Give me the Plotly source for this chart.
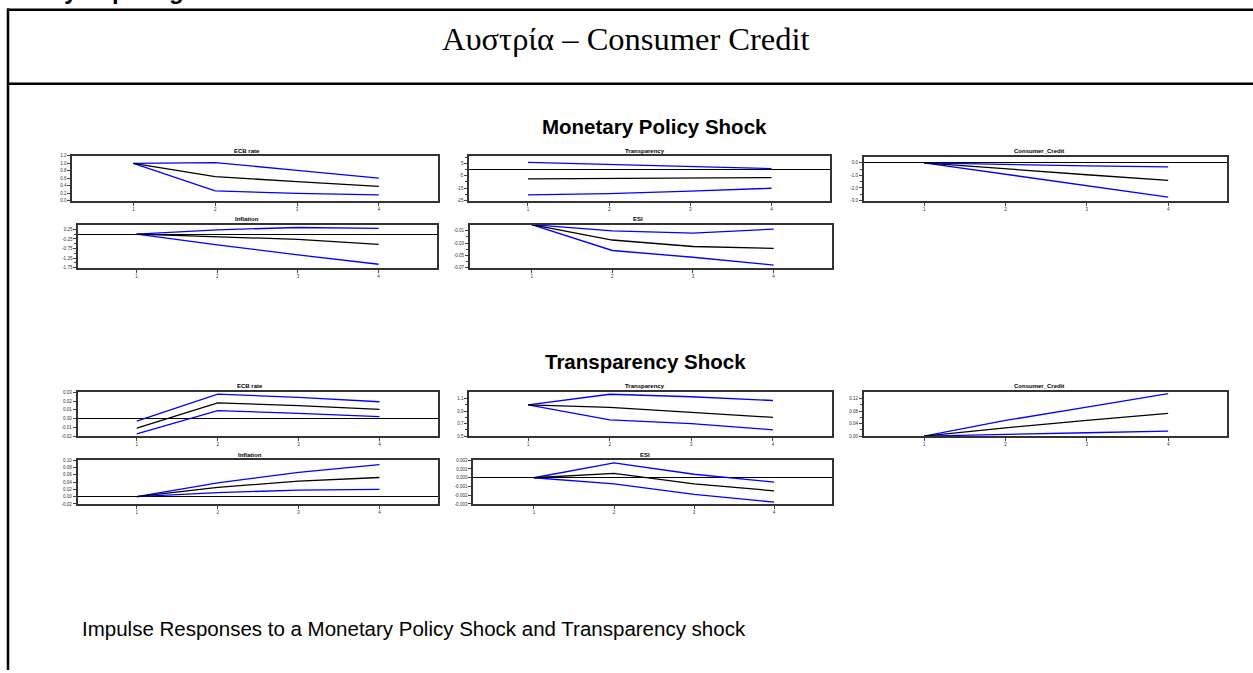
import plotly.graph_objects as go

W, H = 1253, 673

horizons = [1, 2, 3, 4]
x_tick_labels = ["1", "2", "3", "4"]

# ---- Monetary Policy Shock responses (mid = point estimate, up/lo = bands)
mp_ecb_mid = [1.0, 0.64, 0.51, 0.38]
mp_ecb_up = [1.0, 1.02, 0.81, 0.60]
mp_ecb_lo = [1.0, 0.26, 0.19, 0.15]

mp_tr_mid = [-7.6, -7.3, -6.9, -6.5]
mp_tr_up = [5.8, 4.2, 2.4, 0.7]
mp_tr_lo = [-20.5, -19.4, -17.5, -15.1]

mp_cc_mid = [0.0, -0.49, -0.95, -1.40]
mp_cc_up = [0.0, -0.14, -0.24, -0.32]
mp_cc_lo = [0.0, -0.90, -1.80, -2.73]

mp_inf_mid = [0.0, -0.12, -0.27, -0.53]
mp_inf_up = [0.0, 0.23, 0.35, 0.30]
mp_inf_lo = [0.0, -0.56, -1.08, -1.57]

mp_esi_mid = [0.0, -0.025, -0.0355, -0.0387]
mp_esi_up = [0.0, -0.010, -0.0137, -0.0073]
mp_esi_lo = [0.0, -0.042, -0.053, -0.0657]

# ---- Transparency Shock responses
ts_ecb_mid = [-0.011, 0.018, 0.0148, 0.0106]
ts_ecb_up = [-0.003, 0.028, 0.0243, 0.0193]
ts_ecb_lo = [-0.0174, 0.0091, 0.006, 0.0023]

ts_tr_mid = [1.0, 0.96, 0.88, 0.80]
ts_tr_up = [1.0, 1.17, 1.13, 1.07]
ts_tr_lo = [1.0, 0.76, 0.70, 0.60]

ts_cc_mid = [0.0, 0.0265, 0.05, 0.073]
ts_cc_up = [0.0, 0.05, 0.093, 0.136]
ts_cc_lo = [0.0, 0.0064, 0.0106, 0.016]

ts_inf_mid = [0.0, 0.0255, 0.0427, 0.0527]
ts_inf_up = [0.0, 0.038, 0.067, 0.088]
ts_inf_lo = [0.0, 0.011, 0.018, 0.020]

ts_esi_mid = [0.0, 0.0005, -0.0007, -0.0015]
ts_esi_up = [0.0, 0.0017, 0.0004, -0.0005]
ts_esi_lo = [0.0, -0.0007, -0.0019, -0.0028]

# y tick labels per panel
mp_ecb_ticks = [0.0, 0.2, 0.4, 0.6, 0.8, 1.0, 1.2]
mp_tr_ticks = [5, -5, -15, -25]
mp_cc_ticks = [0.0, -1.0, -2.0, -3.0]
mp_inf_ticks = [0.25, -0.25, -0.75, -1.25, -1.75]
mp_esi_ticks = [-0.01, -0.03, -0.05, -0.07]
ts_ecb_ticks = [0.03, 0.02, 0.01, 0.0, -0.01, -0.02]
ts_tr_ticks = [1.1, 0.9, 0.7, 0.5]
ts_cc_ticks = [0.12, 0.08, 0.04, 0.0]
ts_inf_ticks = [0.10, 0.08, 0.06, 0.04, 0.02, 0.0, -0.02]
ts_esi_ticks = [0.002, 0.001, 0.0, -0.001, -0.002, -0.003]

panels = [
    # title, mid, up, lo, ticks, fmt, minor, yrange, (left, top, right, bottom) px, xlo, title pos
    ("ECB rate", mp_ecb_mid, mp_ecb_up, mp_ecb_lo, mp_ecb_ticks, "{:.1f}", [],
     [0, 1.2], (72.3, 155, 437.7, 200), 0.253, (247, 150)),
    ("Transparency", mp_tr_mid, mp_tr_up, mp_tr_lo, mp_tr_ticks, "{:.0f}", [10, 0, -10, -20],
     [-25, 11], (469.3, 155, 830, 200), 0.278, (645, 150)),
    ("Consumer_Credit", mp_cc_mid, mp_cc_up, mp_cc_lo, mp_cc_ticks, "{:.1f}", [-0.5, -1.5, -2.5],
     [-3, 0.5], (864, 155.7, 1226.7, 200), 0.26, (1039, 150)),
    ("Inflation", mp_inf_mid, mp_inf_up, mp_inf_lo, mp_inf_ticks, "{:.2f}", [0, -0.5, -1.0, -1.5],
     [-1.75, 0.5], (78.3, 224.3, 436.7, 267.7), 0.277, (247, 218.7)),
    ("ESI", mp_esi_mid, mp_esi_up, mp_esi_lo, mp_esi_ticks, "{:.2f}", [-0.02, -0.04, -0.06],
     [-0.07, 0.0], (470, 224.3, 831.7, 267.7), 0.236, (638, 218.7)),
    ("ECB rate", ts_ecb_mid, ts_ecb_up, ts_ecb_lo, ts_ecb_ticks, "{:.2f}", [],
     [-0.02, 0.03], (77.7, 393.3, 437.7, 437.3), 0.27, (250, 387.3)),
    ("Transparency", ts_tr_mid, ts_tr_up, ts_tr_lo, ts_tr_ticks, "{:.1f}", [1.0, 0.8, 0.6],
     [0.5, 1.2], (469.3, 393.3, 831.7, 437.3), 0.278, (645, 387.3)),
    ("Consumer_Credit", ts_cc_mid, ts_cc_up, ts_cc_lo, ts_cc_ticks, "{:.2f}", [0.10, 0.06, 0.02],
     [0, 0.14], (864, 393.3, 1226.7, 437.3), 0.26, (1039, 387.3)),
    ("Inflation", ts_inf_mid, ts_inf_up, ts_inf_lo, ts_inf_ticks, "{:.2f}", [],
     [-0.02, 0.10], (77.7, 461.7, 437.7, 505.7), 0.27, (250, 456)),
    ("ESI", ts_esi_mid, ts_esi_up, ts_esi_lo, ts_esi_ticks, "{:.3f}", [],
     [-0.003, 0.002], (473.3, 461.7, 831.7, 505.7), 0.242, (645, 456)),
]


def px(x):
    return x / W


def py(y):
    return 1 - y / H


fig = go.Figure()
annotations = []
layout_axes = {}

for i, (title, mid, up, lo, ticks, fmt, minor, yr, box, xlo, tpos) in enumerate(panels):
    n = i + 1
    xa = "x" if n == 1 else f"x{n}"
    ya = "y" if n == 1 else f"y{n}"
    for vals, col in ((up, "#0000ff"), (lo, "#0000ff"), (mid, "#000000")):
        fig.add_trace(go.Scatter(x=horizons, y=vals, mode="lines", xaxis=xa, yaxis=ya,
                                 line=dict(color=col, width=1.3), showlegend=False,
                                 hoverinfo="skip"))
    left, top, right, bottom = box
    xkey = "xaxis" if n == 1 else f"xaxis{n}"
    ykey = "yaxis" if n == 1 else f"yaxis{n}"
    layout_axes[xkey] = dict(
        domain=[px(left), px(right)], anchor=ya, range=[xlo, 4.72],
        tickmode="array", tickvals=horizons, ticktext=x_tick_labels,
        ticks="outside", ticklen=3, tickwidth=1, tickcolor="#444",
        tickfont=dict(size=4.5, color="#333", family="Arial"),
        showline=True, mirror=True, linecolor="#333", linewidth=2,
        showgrid=False, zeroline=False, fixedrange=True,
    )
    ytick_text = [fmt.format(v) for v in ticks]
    layout_axes[ykey] = dict(
        domain=[py(bottom), py(top)], anchor=xa, range=yr,
        tickmode="array", tickvals=ticks, ticktext=ytick_text,
        ticks="outside", ticklen=3, tickwidth=1, tickcolor="#444",
        tickfont=dict(size=4.5, color="#333", family="Arial"),
        minor=dict(tickmode="array", tickvals=minor, ticks="outside", ticklen=2,
                   tickcolor="#444", tickwidth=1),
        showline=True, mirror=True, linecolor="#333", linewidth=2,
        showgrid=False, zeroline=True, zerolinecolor="#000000", zerolinewidth=1,
        fixedrange=True,
    )
    annotations.append(dict(text=f"<b>{title}</b>", x=px(tpos[0]), y=py(tpos[1]),
                            xref="paper", yref="paper", showarrow=False,
                            xanchor="center", yanchor="middle",
                            font=dict(family="Arial", size=6, color="#000")))

# Document texts
annotations.append(dict(text="Αυστρία – Consumer Credit", x=px(626), y=py(37),
                        xref="paper", yref="paper", showarrow=False,
                        xanchor="center", yanchor="middle",
                        font=dict(family="Liberation Serif", size=32.5, color="#000")))
annotations.append(dict(text="<b>Monetary Policy Shock</b>", x=px(654), y=py(125),
                        xref="paper", yref="paper", showarrow=False,
                        xanchor="center", yanchor="middle",
                        font=dict(family="Arial", size=20.5, color="#000")))
annotations.append(dict(text="<b>Transparency Shock</b>", x=px(645), y=py(362),
                        xref="paper", yref="paper", showarrow=False,
                        xanchor="center", yanchor="middle",
                        font=dict(family="Arial", size=20.5, color="#000")))
annotations.append(dict(text="Impulse Responses to a Monetary Policy Shock and Transparency shock",
                        x=px(80), y=py(631), xref="paper", yref="paper", showarrow=False,
                        xanchor="left", yanchor="middle",
                        font=dict(family="Arial", size=20.5, color="#000")))

# descenders of a cut-off line of text above the page top (only the tails show)
for ch, cx in (("y", 71), ("p", 119), ("g", 176)):
    annotations.append(dict(text=f"<b>{ch}</b>", x=px(cx), y=1 + 11.5 / H,
                            xref="paper", yref="paper", showarrow=False,
                            xanchor="center", yanchor="middle",
                            font=dict(family="Arial", size=24, color="#000")))

shapes = [
    dict(type="line", xref="paper", yref="paper", x0=px(7), x1=1.0, y0=py(7.7), y1=py(7.7),
         line=dict(color="#000", width=2.5)),
    dict(type="line", xref="paper", yref="paper", x0=px(7), x1=1.0, y0=py(82.3), y1=py(82.3),
         line=dict(color="#000", width=2.5)),
    dict(type="line", xref="paper", yref="paper", x0=px(8), x1=px(8), y0=py(6.5), y1=0,
         line=dict(color="#000", width=2.5)),
]

fig.update_layout(
    width=W, height=H, margin=dict(l=0, r=0, t=0, b=0),
    paper_bgcolor="white", plot_bgcolor="white",
    annotations=annotations, shapes=shapes, showlegend=False,
    **layout_axes,
)

fig.write_html("out.html", config={"displayModeBar": False},
               post_script="document.body.style.margin='0';document.body.style.overflow='hidden';")
